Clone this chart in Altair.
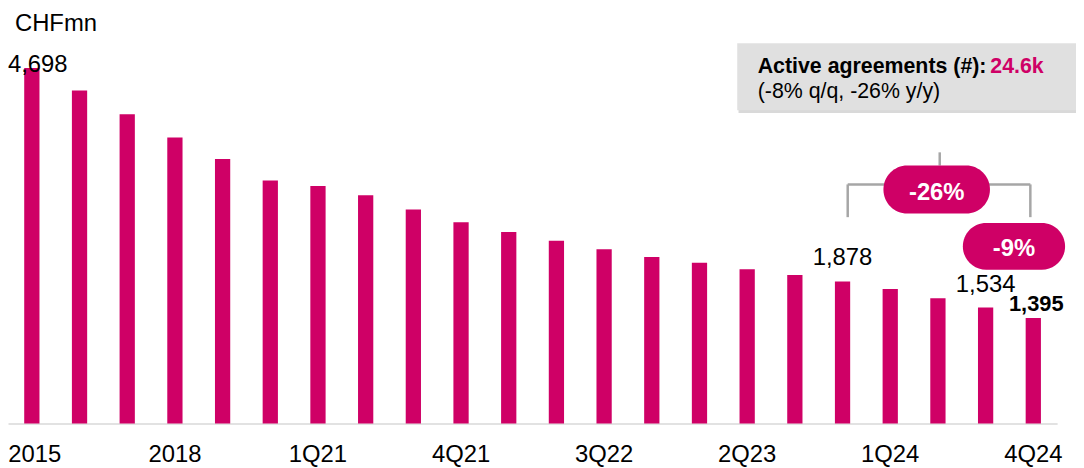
import altair as alt
import pandas as pd

categories = ["2015", "2016", "2017", "2018", "2019", "2020",
              "1Q21", "2Q21", "3Q21", "4Q21", "1Q22", "2Q22", "3Q22", "4Q22",
              "1Q23", "2Q23", "3Q23", "4Q23", "1Q24", "2Q24", "3Q24", "4Q24"]
values = [4698, 4401, 4087, 3780, 3497, 3212, 3138, 3016, 2828, 2662, 2531,
          2417, 2304, 2203, 2124, 2041, 1963, 1878, 1779, 1656, 1534, 1395]
axis_labels = ["2015", "2018", "1Q21", "4Q21", "3Q22", "2Q23", "1Q24", "4Q24"]

unit_label = "CHFmn"
box_title = "Active agreements (#): "
box_value = "24.6k"
box_sub = "(-8% q/q, -26% y/y)"
yoy_text = "-26%"
qoq_text = "-9%"

MAGENTA = "#CF0066"
GREY = "#A6A6A6"
FONT = "Liberation Sans"

df = pd.DataFrame({"period": categories, "value": values})

xenc = alt.X(
    "period:N", sort=categories,
    scale=alt.Scale(paddingInner=0.68, paddingOuter=0.34),
    axis=alt.Axis(values=axis_labels, title=None, labelAngle=0, ticks=False, tickSize=0,
                  labelFontSize=24, labelFont=FONT, labelColor="#000000",
                  labelPadding=38, labelBaseline="alphabetic",
                  labelOffset={"condition": {"test": "datum.value === '2015'", "value": 3},
                               "value": 0},
                  domainColor="#D9D9D9", domainWidth=1.5, grid=False),
)
yenc = alt.Y("value:Q", scale=alt.Scale(domain=[0, 5469], nice=False, zero=True), axis=None)

base = alt.Chart(df)
bars = base.mark_bar(color=MAGENTA).encode(x=xenc, y=yenc)


def vlabel(cat, dy, dx=0, bold=False, size=24):
    return base.transform_filter(alt.datum.period == cat).mark_text(
        dy=dy, dx=dx, font=FONT, fontSize=size,
        fontWeight="bold" if bold else "normal",
        baseline="alphabetic", align="center", color="#000000",
    ).encode(
        x=alt.X("period:N", sort=categories),
        y=alt.Y("value:Q"),
        text=alt.Text("value:Q", format=","),
    )


labels = [
    vlabel("2015", 4, dx=6),
    vlabel("4Q23", -17),
    vlabel("3Q24", -16),
    vlabel("4Q24", -7, dx=3, bold=True, size=22),
]

ann = alt.Chart(pd.DataFrame({"k": [0]}))


def txt(s, x, y, size, bold=False, color="#000000", align="left"):
    return ann.mark_text(
        text=s, font=FONT, fontSize=size, fontWeight="bold" if bold else "normal",
        color=color, align=align, baseline="alphabetic",
    ).encode(x=alt.value(x), y=alt.value(y))


def rect(x, x2, y, y2, color, opacity=1.0, radius=0):
    return ann.mark_rect(color=color, opacity=opacity, cornerRadius=radius).encode(
        x=alt.value(x), x2=alt.value(x2), y=alt.value(y), y2=alt.value(y2))


def vrule(x, y, y2):
    return ann.mark_rule(color=GREY, strokeWidth=2.5).encode(
        x=alt.value(x), y=alt.value(y), y2=alt.value(y2))


def hrule(x, x2, y):
    return ann.mark_rule(color=GREY, strokeWidth=2.5).encode(
        x=alt.value(x), x2=alt.value(x2), y=alt.value(y))


annotations = [
    txt(unit_label, 7, 21, 24),
    rect(736, 1078, 36.5, 104, "#A0A0A0", 0.4),
    rect(734.7, 1078, 33.7, 101.3, "#E0E0E0"),
    txt(box_title, 755.3, 63.7, 21.5, bold=True),
    txt(box_value, 989.7, 63.7, 21.5, bold=True, color=MAGENTA),
    txt(box_sub, 755.3, 88.5, 21.5),
    vrule(938.7, 143.7, 157),
    hrule(846, 1030, 176),
    vrule(846, 176, 209),
    vrule(1030, 176, 209),
    rect(882, 989.3, 157, 205.3, MAGENTA, radius=24),
    txt(yoy_text, 935.7, 192, 24, bold=True, color="#FFFFFF", align="center"),
    rect(962, 1065, 215, 262, MAGENTA, radius=23.5),
    txt(qoq_text, 1013.5, 248, 24, bold=True, color="#FFFFFF", align="center"),
]

chart = alt.layer(bars, *labels, *annotations).properties(
    width=1057, height=417,
    padding={"left": 0, "top": 0, "right": 19, "bottom": 43},
    autosize=alt.AutoSizeParams(type="none"),
    background="#FFFFFF",
).configure_view(strokeWidth=0)

chart.save("out.html", embed_options={"renderer": "svg", "actions": False})
